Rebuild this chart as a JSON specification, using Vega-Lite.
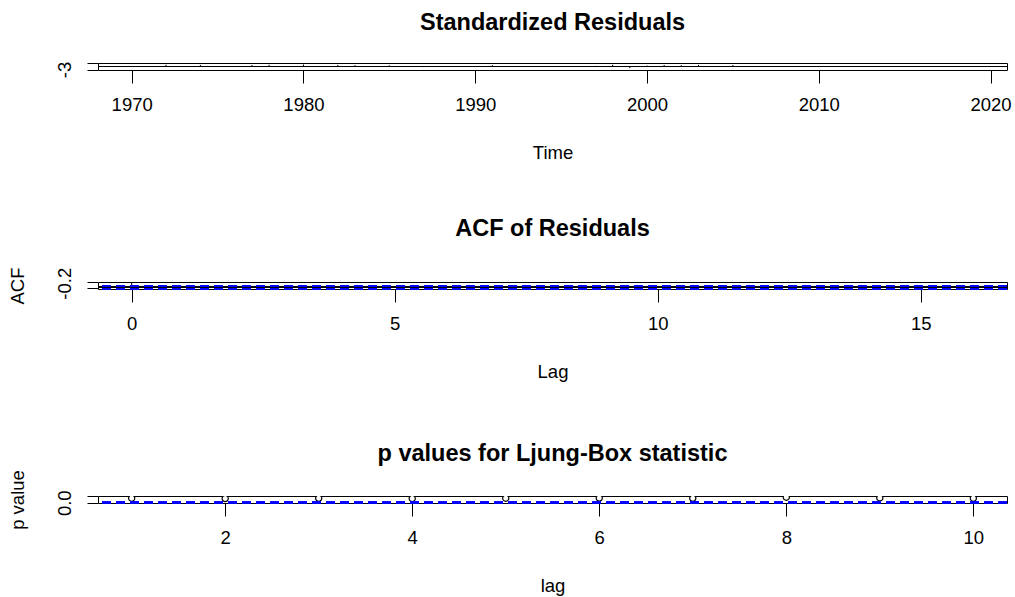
{
  "$schema": "https://vega.github.io/schema/vega-lite/v6.json",
  "background": "white",
  "padding": {"left": 7, "top": 10, "right": 0, "bottom": 0},
  "spacing": 59,
  "config": {
    "font": "Liberation Sans",
    "view": {"stroke": "black", "strokeWidth": 1},
    "axis": {"domain": false, "grid": false, "tickColor": "black", "tickWidth": 1, "labelColor": "black", "titleColor": "black", "labelFontSize": 18.5, "titleFontSize": 18.5, "titleFontWeight": "normal", "labelFont": "Liberation Sans", "titleFont": "Liberation Sans"},
    "axisX": {"tickSize": 13, "labelPadding": 12, "titlePadding": 30},
    "axisY": {"tickSize": 11, "labelAngle": -90, "labelAlign": "center", "labelBaseline": "bottom", "labelPadding": 13, "titlePadding": 28},
    "title": {"fontSize": 23.5, "fontWeight": "bold", "color": "black", "anchor": "middle", "frame": "group", "offset": 27, "font": "Liberation Sans"}
  },
  "datasets": {
    "resid": [
      {"year": 1970, "res": 0.3}, {"year": 1971, "res": -0.4}, {"year": 1972, "res": 1.8}, {"year": 1973, "res": 0.2}, {"year": 1974, "res": 1.6},
      {"year": 1975, "res": -0.3}, {"year": 1976, "res": 0.4}, {"year": 1977, "res": 1.5}, {"year": 1978, "res": 1.7}, {"year": 1979, "res": -0.5},
      {"year": 1980, "res": 2.0}, {"year": 1981, "res": 0.3}, {"year": 1982, "res": 1.6}, {"year": 1983, "res": 1.4}, {"year": 1984, "res": -0.2},
      {"year": 1985, "res": 1.2}, {"year": 1986, "res": 0.1}, {"year": 1987, "res": -0.6}, {"year": 1988, "res": 0.4}, {"year": 1989, "res": -0.3},
      {"year": 1990, "res": 0.2}, {"year": 1991, "res": 1.3}, {"year": 1992, "res": 0.5}, {"year": 1993, "res": -0.4}, {"year": 1994, "res": 0.3},
      {"year": 1995, "res": -0.2}, {"year": 1996, "res": 0.4}, {"year": 1997, "res": 0.6}, {"year": 1998, "res": 1.7}, {"year": 1999, "res": -1.6},
      {"year": 2000, "res": 0.9}, {"year": 2001, "res": 1.5}, {"year": 2002, "res": 1.4}, {"year": 2003, "res": 1.6}, {"year": 2004, "res": -0.4},
      {"year": 2005, "res": 1.5}, {"year": 2006, "res": 0.2}, {"year": 2007, "res": -0.5}, {"year": 2008, "res": -0.3}, {"year": 2009, "res": 0.3},
      {"year": 2010, "res": -0.3}, {"year": 2011, "res": 0.2}, {"year": 2012, "res": -0.4}, {"year": 2013, "res": 0.5}, {"year": 2014, "res": -0.2},
      {"year": 2015, "res": 0.3}, {"year": 2016, "res": -0.5}, {"year": 2017, "res": 0.2}, {"year": 2018, "res": -0.3}, {"year": 2019, "res": 0.4}
    ],
    "acf": [
      {"lag": 0, "acf": 1.0}, {"lag": 1, "acf": 0.05}, {"lag": 2, "acf": -0.1}, {"lag": 3, "acf": 0.08}, {"lag": 4, "acf": -0.05},
      {"lag": 5, "acf": 0.12}, {"lag": 6, "acf": -0.08}, {"lag": 7, "acf": 0.03}, {"lag": 8, "acf": -0.15}, {"lag": 9, "acf": 0.06},
      {"lag": 10, "acf": 0.1}, {"lag": 11, "acf": -0.04}, {"lag": 12, "acf": -0.12}, {"lag": 13, "acf": 0.02}, {"lag": 14, "acf": 0.07},
      {"lag": 15, "acf": -0.09}, {"lag": 16, "acf": 0.04}
    ],
    "lb": [
      {"lag": 1, "p": 0.7}, {"lag": 2, "p": 0.65}, {"lag": 3, "p": 0.68}, {"lag": 4, "p": 0.66}, {"lag": 5, "p": 0.7},
      {"lag": 6, "p": 0.72}, {"lag": 7, "p": 0.68}, {"lag": 8, "p": 0.85}, {"lag": 9, "p": 0.75}, {"lag": 10, "p": 0.7}
    ]
  },
  "vconcat": [
    {
      "spacing": 53,
      "vconcat": [
        {
          "title": {"text": "Standardized Residuals", "offset": 27},
          "width": 909,
          "height": 7,
          "data": {"name": "resid"},
          "layer": [
            {"mark": {"type": "rule", "color": "black", "strokeWidth": 1, "clip": true},
             "encoding": {
               "x": {"field": "year", "type": "quantitative", "title": "Time", "scale": {"domain": [1968.04, 2020.96], "nice": false, "zero": false}, "axis": {"values": [1970, 1980, 1990, 2000, 2010, 2020], "format": "d"}},
               "y": {"field": "res", "type": "quantitative", "title": " ", "scale": {"domain": [-3.5, 3.5], "nice": false, "zero": false}, "axis": {"values": [-3, -2, -1, 0, 1, 2, 3], "labelExpr": "datum.value == -3 ? '-3' : ''"}},
               "y2": {"datum": 0}}},
            {"mark": {"type": "rule", "color": "black", "strokeWidth": 1},
             "encoding": {"y": {"datum": 0, "type": "quantitative"}}}
          ]
        },
        {
          "title": {"text": "ACF of Residuals", "offset": 27},
          "width": 909,
          "height": 7,
          "data": {"name": "acf"},
          "layer": [
            {"mark": {"type": "rule", "color": "black", "strokeWidth": 1, "clip": true},
             "encoding": {
               "x": {"field": "lag", "type": "quantitative", "title": "Lag", "scale": {"domain": [-0.64, 16.64], "nice": false, "zero": false}, "axis": {"values": [0, 5, 10, 15]}},
               "y": {"field": "acf", "type": "quantitative", "title": "ACF", "scale": {"domain": [-0.35, 1.05], "nice": false, "zero": false}, "axis": {"values": [-0.2, 0.2, 0.6, 1.0], "format": ".1f", "labelOffset": -5, "labelExpr": "datum.value < -0.1 ? '-0.2' : ''"}},
               "y2": {"datum": 0}}},
            {"mark": {"type": "rule", "color": "black", "strokeWidth": 1},
             "encoding": {"y": {"datum": 0, "type": "quantitative"}}},
            {"mark": {"type": "rule", "color": "blue", "strokeWidth": 1.5, "strokeDash": [9, 5]},
             "encoding": {"y": {"datum": 0.277, "type": "quantitative"}}},
            {"mark": {"type": "rule", "color": "blue", "strokeWidth": 1.5, "strokeDash": [9, 5]},
             "encoding": {"y": {"datum": -0.277, "type": "quantitative"}}}
          ]
        }
      ]
    },
    {
      "title": {"text": "p values for Ljung-Box statistic", "offset": 4},
      "width": 909,
      "height": 7,
      "data": {"name": "lb"},
      "layer": [
        {"mark": {"type": "point", "shape": "circle", "filled": false, "color": "black", "fill": "white", "fillOpacity": 1, "strokeWidth": 1.2, "size": 38, "clip": true, "opacity": 1},
         "encoding": {
           "x": {"field": "lag", "type": "quantitative", "title": "lag", "scale": {"domain": [0.64, 10.36], "nice": false, "zero": false}, "axis": {"values": [2, 4, 6, 8, 10]}},
           "y": {"field": "p", "type": "quantitative", "title": "p value", "scale": {"domain": [-0.04, 1.04], "nice": false, "zero": false}, "axis": {"values": [0, 0.2, 0.4, 0.6, 0.8, 1.0], "format": ".1f", "labelExpr": "datum.value == 0 ? '0.0' : ''"}}}},
        {"mark": {"type": "rule", "color": "blue", "strokeWidth": 1.5, "strokeDash": [9, 5]},
         "encoding": {"y": {"datum": 0.05, "type": "quantitative"}}}
      ]
    }
  ]
}
